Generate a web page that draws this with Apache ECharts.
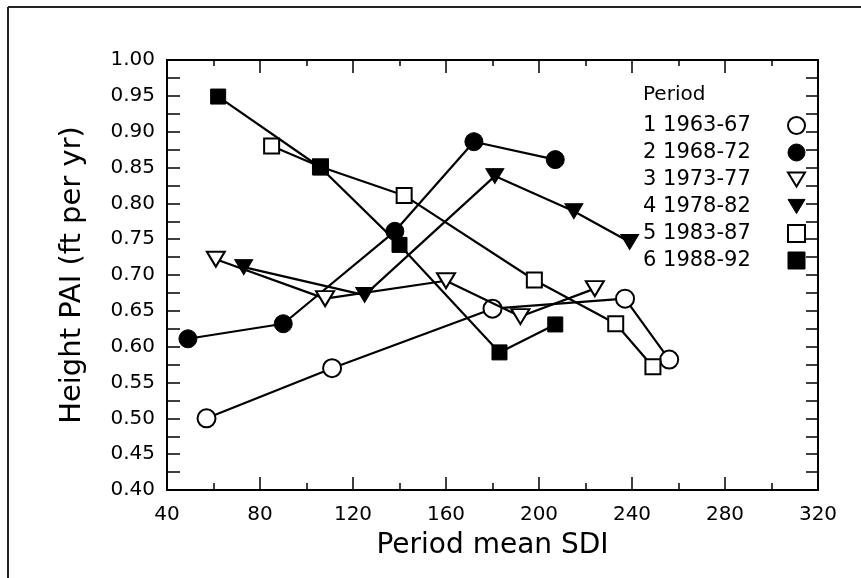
<!DOCTYPE html>
<html><head><meta charset="utf-8">
<script src="https://cdn.jsdelivr.net/npm/echarts@6/dist/echarts.min.js"></script>
<style>html,body{margin:0;padding:0;background:#fff}#c{width:861px;height:578px}</style>
</head><body><div id="c"></div>
<script>
// ---- data ----
const periodNames = ['1 1963-67', '2 1968-72', '3 1973-77', '4 1978-82', '5 1983-87', '6 1988-92'];
const p1x = [57, 111, 180, 237, 256];
const p1y = [0.500, 0.570, 0.653, 0.667, 0.582];
const p2x = [49, 90, 138, 172, 207];
const p2y = [0.611, 0.632, 0.761, 0.886, 0.861];
const p3x = [61, 108, 160, 192, 224];
const p3y = [0.722, 0.667, 0.692, 0.642, 0.681];
const p4x = [73, 125, 181, 215, 239];
const p4y = [0.711, 0.672, 0.838, 0.789, 0.746];
const p5x = [85, 106, 142, 198, 233, 249];
const p5y = [0.880, 0.851, 0.811, 0.693, 0.632, 0.572];
const p6x = [62, 106, 140, 183, 207];
const p6y = [0.949, 0.850, 0.742, 0.592, 0.631];
const xTicks = [40, 80, 120, 160, 200, 240, 280, 320];
const yTicks = [0.40, 0.45, 0.50, 0.55, 0.60, 0.65, 0.70, 0.75, 0.80, 0.85, 0.90, 0.95, 1.00];
const legendTitle = 'Period';
const xTitle = 'Period mean SDI';
const yTitle = 'Height PAI (ft per yr)';

// ---- chart ----
const FONT = 'DejaVu Sans';
const TRI = 'path://M0,0L18,0L9,15Z';
const openStyle = {color: '#fff', borderColor: '#000', borderWidth: 2};
const fillStyle = {color: '#000', borderColor: '#000', borderWidth: 1};
const markers = [
  {symbol: 'circle', size: 18, style: openStyle},
  {symbol: 'circle', size: 18, style: fillStyle},
  {symbol: TRI, size: [18, 15], style: openStyle},
  {symbol: TRI, size: [18, 15], style: fillStyle},
  {symbol: 'rect', size: 15, style: openStyle},
  {symbol: 'rect', size: 15, style: fillStyle}
];
const xs = [p1x, p2x, p3x, p4x, p5x, p6x];
const ys = [p1y, p2y, p3y, p4y, p5y, p6y];

const series = periodNames.map((name, i) => ({
  name: name,
  type: 'line',
  data: xs[i].map((x, k) => [x, ys[i][k]]),
  symbol: markers[i].symbol,
  symbolSize: markers[i].size,
  itemStyle: markers[i].style,
  lineStyle: {color: '#000', width: 2.2},
  z: 2 + i,
  emphasis: {disabled: true}
}));

const chart = echarts.init(document.getElementById('c'), null, {renderer: 'canvas'});
const xMin = xTicks[0], xMax = xTicks[xTicks.length - 1], xInt = xTicks[1] - xTicks[0];
const yMin = yTicks[0], yMax = yTicks[yTicks.length - 1], yInt = 0.05;

const axisLineStyle = {show: true, lineStyle: {color: '#000', width: 2}};
chart.setOption({
  animation: false,
  backgroundColor: '#fff',
  textStyle: {fontFamily: FONT, color: '#000'},
  title: {
    text: legendTitle, left: 638, top: 80,
    textStyle: {fontFamily: FONT, fontSize: 20, fontWeight: 'normal', color: '#000'}
  },
  legend: {
    orient: 'vertical', left: 638, top: 110,
    align: 'right', itemWidth: 17, itemHeight: 17, itemGap: 6,
    formatter: n => '{t|' + n + '}',
    textStyle: {
      fontFamily: FONT, fontSize: 21, color: '#000',
      rich: {t: {fontFamily: FONT, fontSize: 21, color: '#000', width: 140, align: 'left', lineHeight: 21}}
    },
    data: periodNames.map((n, i) => ({
      name: n, icon: markers[i].symbol, itemStyle: markers[i].style
    }))
  },
  grid: {left: 167, top: 60, width: 651, height: 430, containLabel: false},
  xAxis: [{
    type: 'value', min: xMin, max: xMax, interval: xInt,
    name: xTitle, nameLocation: 'middle', nameGap: 42,
    nameTextStyle: {fontFamily: FONT, fontSize: 28, color: '#000'},
    axisLine: axisLineStyle,
    axisTick: {show: true, inside: true, length: 13, lineStyle: {color: '#000', width: 1.5}},
    minorTick: {show: true, splitNumber: 2, length: 7, lineStyle: {color: '#000', width: 1.5}},
    axisLabel: {fontFamily: FONT, fontSize: 20, color: '#000', margin: 15},
    splitLine: {show: false}
  }, {
    type: 'value', position: 'top', min: xMin, max: xMax, interval: xInt,
    axisLine: axisLineStyle,
    axisTick: {show: true, inside: true, length: 13, lineStyle: {color: '#000', width: 1.5}},
    minorTick: {show: true, splitNumber: 2, length: 6, lineStyle: {color: '#000', width: 1.5}},
    axisLabel: {show: false},
    splitLine: {show: false}
  }],
  yAxis: [{
    type: 'value', min: yMin, max: yMax, interval: yInt,
    name: yTitle, nameLocation: 'middle', nameGap: 80,
    nameTextStyle: {fontFamily: FONT, fontSize: 29, color: '#000'},
    axisLine: axisLineStyle,
    axisTick: {show: true, inside: true, length: 13, lineStyle: {color: '#000', width: 1.5}},
    minorTick: {show: true, splitNumber: 2, length: 13, lineStyle: {color: '#000', width: 1.5}},
    axisLabel: {fontFamily: FONT, fontSize: 20, color: '#000', margin: 12,
      formatter: v => v.toFixed(2)},
    splitLine: {show: false}
  }, {
    type: 'value', position: 'right', min: yMin, max: yMax, interval: yInt,
    axisLine: axisLineStyle,
    axisTick: {show: true, inside: true, length: 12, lineStyle: {color: '#000', width: 1.5}},
    minorTick: {show: true, splitNumber: 2, length: 12, lineStyle: {color: '#000', width: 1.5}},
    axisLabel: {show: false},
    splitLine: {show: false}
  }],
  graphic: [
    {type: 'line', shape: {x1: 8, y1: 7, x2: 861, y2: 7}, style: {stroke: '#222', lineWidth: 2}},
    {type: 'line', shape: {x1: 8, y1: 7, x2: 8, y2: 578}, style: {stroke: '#222', lineWidth: 2}}
  ],
  series: series
});
</script>
</body></html>
